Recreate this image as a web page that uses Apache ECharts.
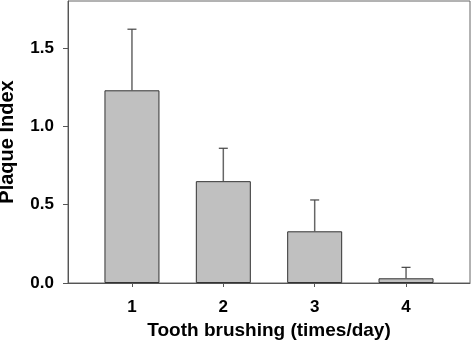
<!DOCTYPE html>
<html>
<head>
<meta charset="utf-8">
<script src="https://cdn.jsdelivr.net/npm/echarts@6/dist/echarts.min.js"></script>
<style>html,body{margin:0;padding:0;background:#fff}#c{width:472px;height:341px}</style>
</head>
<body>
<div id="c"></div>
<script>
var categories = [1, 2, 3, 4];
var meanValues = [1.23, 0.65, 0.33, 0.03];
var errorTops = [1.62, 0.86, 0.53, 0.10];
var yTicks = [0, 0.5, 1.0, 1.5];

var chart = echarts.init(document.getElementById('c'), null, {renderer: 'canvas'});
var font = '"Liberation Sans", Arial, sans-serif';
var barData = categories.map(function (c, i) { return [c, meanValues[i]]; });
var errData = categories.map(function (c, i) { return [c, meanValues[i], errorTops[i]]; });

chart.setOption({
  animation: false,
  grid: {left: 68, right: 2, top: 1, bottom: 58, show: true, borderColor: '#666', borderWidth: 1,
    backgroundColor: 'transparent', containLabel: false, outerBoundsMode: 'none'},
  xAxis: {
    type: 'value', min: 0.3, max: 4.7,
    name: 'Tooth brushing (times/day)', nameLocation: 'middle', nameGap: 32,
    nameTextStyle: {fontFamily: font, fontWeight: 'bold', fontSize: 19, color: '#000'},
    axisLine: {show: true, lineStyle: {color: '#555', width: 1}},
    axisTick: {show: true, inside: false, length: 4, customValues: categories, lineStyle: {color: '#555'}},
    axisLabel: {customValues: categories, margin: 16, fontFamily: font, fontWeight: 'bold', fontSize: 17, color: '#000'},
    splitLine: {show: false}
  },
  yAxis: {
    type: 'value', min: 0, max: 1.8,
    name: 'Plaque Index', nameLocation: 'middle', nameGap: 51,
    nameTextStyle: {fontFamily: font, fontWeight: 'bold', fontSize: 20, color: '#000'},
    axisLine: {show: true, lineStyle: {color: '#555', width: 1}},
    axisTick: {show: true, inside: false, length: 5, customValues: yTicks, lineStyle: {color: '#555'}},
    axisLabel: {customValues: yTicks, margin: 14, fontFamily: font, fontWeight: 'bold', fontSize: 17, color: '#000',
      formatter: function (v) { return Number(v).toFixed(1); }},
    splitLine: {show: false}
  },
  series: [
    {
      type: 'bar', data: barData, barWidth: 55,
      itemStyle: {color: '#c0c0c0', borderColor: '#333', borderWidth: 1}
    },
    {
      type: 'custom', data: errData, z: 1,
      renderItem: function (params, api) {
        var x = api.value(0);
        var top = api.coord([x, api.value(1)]);
        var hi = api.coord([x, api.value(2)]);
        var hw = 4.5;
        return {
          type: 'group',
          children: [
            {type: 'line', shape: {x1: top[0], y1: top[1], x2: hi[0], y2: hi[1]}, style: {stroke: '#666', lineWidth: 1.5}},
            {type: 'line', shape: {x1: hi[0] - hw, y1: hi[1], x2: hi[0] + hw, y2: hi[1]}, style: {stroke: '#444', lineWidth: 1.2}}
          ]
        };
      }
    }
  ]
});
</script>
</body>
</html>
